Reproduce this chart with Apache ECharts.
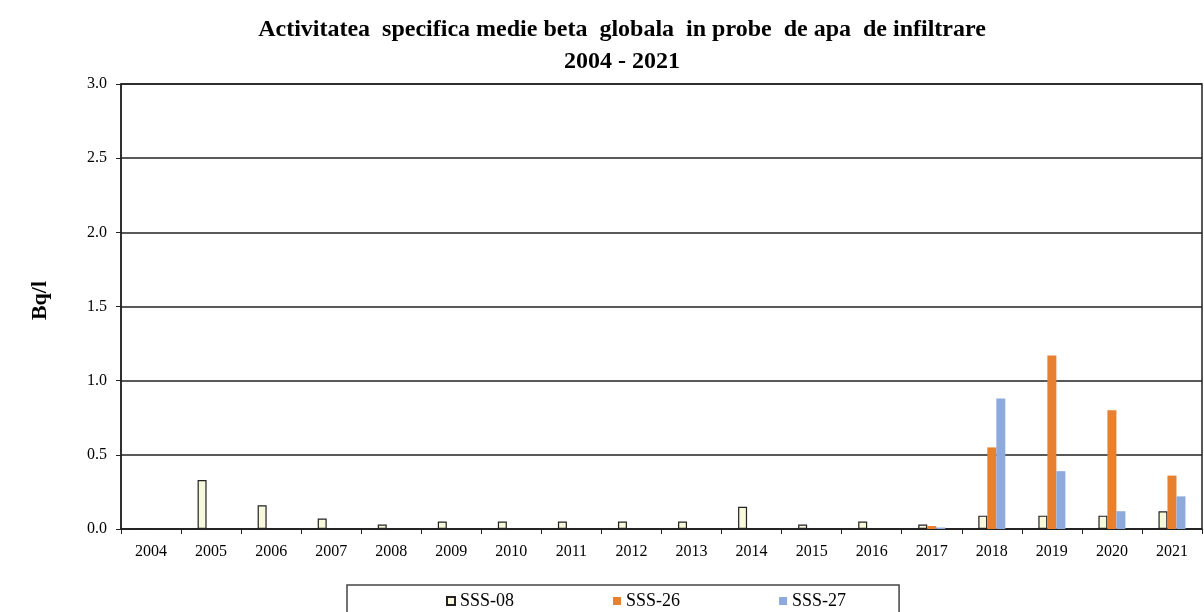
<!DOCTYPE html>
<html><head><meta charset="utf-8">
<script src="https://cdn.jsdelivr.net/npm/echarts@6/dist/echarts.min.js"></script>
<style>html,body{margin:0;padding:0;background:#fff}#c{width:1204px;height:612px}</style>
</head><body><div id="c"></div>
<script>
const categories = ['2004','2005','2006','2007','2008','2009','2010','2011','2012','2013','2014','2015','2016','2017','2018','2019','2020','2021'];
const sss08 = [0, 0.33, 0.16, 0.07, 0.03, 0.05, 0.05, 0.05, 0.05, 0.05, 0.15, 0.03, 0.05, 0.03, 0.09, 0.09, 0.09, 0.12];
const sss26 = [null, null, null, null, null, null, null, null, null, null, null, null, null, 0.02, 0.55, 1.17, 0.80, 0.36];
const sss27 = [null, null, null, null, null, null, null, null, null, null, null, null, null, 0.01, 0.88, 0.39, 0.12, 0.22];
const yTicks = [0, 0.5, 1.0, 1.5, 2.0, 2.5, 3.0];
const titleText = 'Activitatea  specifica medie beta  globala  in probe  de apa  de infiltrare\n2004 - 2021';
const yName = 'Bq/l';

const serif = '"Liberation Serif", "DejaVu Serif", serif';
const chart = echarts.init(document.getElementById('c'));
chart.setOption({
  animation: false,
  backgroundColor: '#fff',
  title: {
    text: titleText, left: 617, top: 9, textAlign: 'center',
    textStyle: { fontFamily: serif, fontWeight: 'bold', fontSize: 24, color: '#000', lineHeight: 32 }
  },
  grid: { left: 121, right: 2, top: 84, bottom: 83, show: true, borderColor: '#222', borderWidth: 1.5, backgroundColor: 'transparent' },
  legend: {
    bottom: -20, left: 347,
    padding: [7, 53, 22, 99],
    borderColor: '#444', borderWidth: 1.5,
    itemWidth: 8, itemHeight: 8, itemGap: 99,
    icon: 'rect',
    textStyle: { fontFamily: serif, fontSize: 18, color: '#000' },
    data: ['SSS-08', 'SSS-26', 'SSS-27']
  },
  xAxis: {
    type: 'category', data: categories,
    axisLine: { lineStyle: { color: '#222', width: 1.5 } },
    axisTick: { show: true, length: 5, lineStyle: { color: '#222' } },
    axisLabel: { fontFamily: serif, fontSize: 16, color: '#000', margin: 15 }
  },
  yAxis: {
    type: 'value', min: yTicks[0], max: yTicks[yTicks.length - 1], interval: 0.5,
    name: yName, nameLocation: 'middle', nameGap: 70, nameRotate: 90,
    nameTextStyle: { fontFamily: serif, fontWeight: 'bold', fontSize: 22, color: '#000', padding: [0, 0, 0, 12] },
    axisLine: { show: true, lineStyle: { color: '#222', width: 1.5 } },
    axisTick: { show: true, length: 5, lineStyle: { color: '#222' } },
    axisLabel: { fontFamily: serif, fontSize: 16, color: '#000', margin: 14, formatter: v => v.toFixed(1) },
    splitLine: { lineStyle: { color: '#222', width: 1.5 } }
  },
  series: [
    { name: 'SSS-08', type: 'bar', data: sss08, barWidth: 9, barGap: '0%',
      itemStyle: { color: '#f8f8dc', borderColor: '#222', borderWidth: 1.2 } },
    { name: 'SSS-26', type: 'bar', data: sss26, barWidth: 9,
      itemStyle: { color: '#e7802f' } },
    { name: 'SSS-27', type: 'bar', data: sss27, barWidth: 9,
      itemStyle: { color: '#8eaadd' } }
  ]
});
</script></body></html>
